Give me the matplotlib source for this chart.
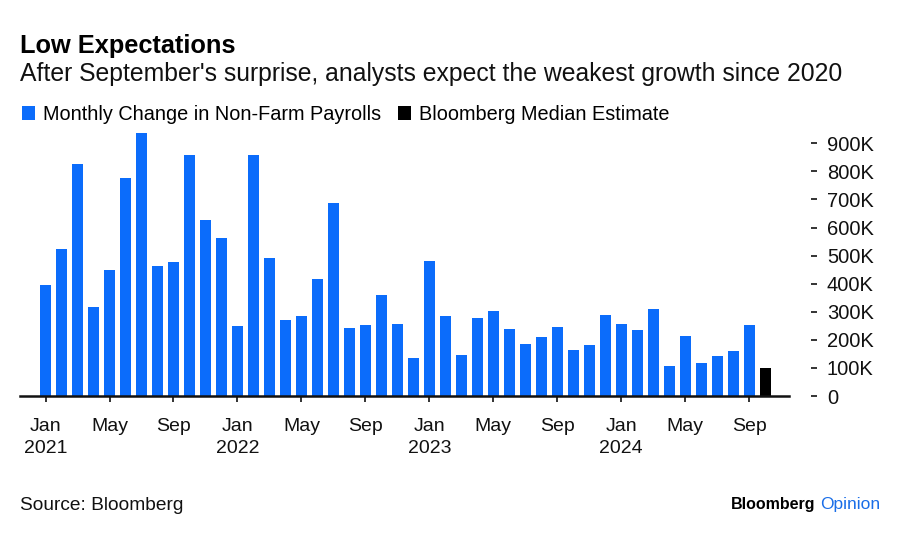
import matplotlib
matplotlib.use("Agg")
import matplotlib.pyplot as plt
import numpy as np
from matplotlib.patches import Patch

plt.rcParams['font.family'] = ['Liberation Sans', 'DejaVu Sans']

# ---- data (thousands of jobs) ----
months = ["Jan 2021", "Feb 2021", "Mar 2021", "Apr 2021", "May 2021", "Jun 2021",
          "Jul 2021", "Aug 2021", "Sep 2021", "Oct 2021", "Nov 2021", "Dec 2021",
          "Jan 2022", "Feb 2022", "Mar 2022", "Apr 2022", "May 2022", "Jun 2022",
          "Jul 2022", "Aug 2022", "Sep 2022", "Oct 2022", "Nov 2022", "Dec 2022",
          "Jan 2023", "Feb 2023", "Mar 2023", "Apr 2023", "May 2023", "Jun 2023",
          "Jul 2023", "Aug 2023", "Sep 2023", "Oct 2023", "Nov 2023", "Dec 2023",
          "Jan 2024", "Feb 2024", "Mar 2024", "Apr 2024", "May 2024", "Jun 2024",
          "Jul 2024", "Aug 2024", "Sep 2024"]
payrolls = [395, 525, 827, 316, 449, 775, 935, 463, 477, 857, 628, 564,
            248, 859, 491, 269, 284, 418, 687, 241, 253, 358, 256, 134,
            481, 286, 145, 277, 302, 239, 184, 209, 245, 164, 180, 288,
            255, 235, 309, 107, 215, 118, 144, 159, 253]
estimate_month = "Oct 2024"
estimate = [100]

xtick_labels = ["Jan\n2021", "May", "Sep", "Jan\n2022", "May", "Sep",
                "Jan\n2023", "May", "Sep", "Jan\n2024", "May", "Sep"]
ytick_values = [0, 100, 200, 300, 400, 500, 600, 700, 800, 900]
ytick_labels = ["0", "100K", "200K", "300K", "400K", "500K", "600K",
                "700K", "800K", "900K"]

BLUE = "#0B6CFB"

fig = plt.figure(figsize=(9, 5.35), dpi=100)
ax = fig.add_axes([20/900, 139/535, 769/900, (950*0.2808)/535])

x = np.arange(len(payrolls))
ax.bar(x, payrolls, width=0.69, color=BLUE, zorder=2)
xe = np.arange(len(payrolls), len(payrolls) + len(estimate))
ax.bar(xe, estimate, width=0.69, color="black", zorder=2)

ax.set_xlim(-1.6, 46.5)
ax.set_ylim(0, 950)

for s in ["top", "left"]:
    ax.spines[s].set_visible(False)
ax.spines["bottom"].set_linewidth(1.8)
ax.spines["bottom"].set_color("#111111")
ax.spines["bottom"].set_zorder(3)
ax.spines["right"].set_position(("outward", 15.8))
ax.spines["right"].set_visible(False)

ax.set_xticks(np.arange(0, len(payrolls), 4))
ax.set_xticklabels(xtick_labels, fontsize=14, color="#111111",
                   linespacing=1.42, va="top")
ax.tick_params(axis="x", length=4.5, width=1.3, color="#222222", pad=11)

ax.yaxis.tick_right()
ax.set_yticks(ytick_values)
ax.set_yticklabels(ytick_labels, fontsize=14.5, color="#111111")
ax.tick_params(axis="y", length=4.5, width=1.4, color="#333333", pad=7)

# Titles
fig.text(20/900, 1 - 45.5/535, "Low Expectations", fontsize=18.3,
         fontweight="bold", va="center", ha="left", color="black")
fig.text(20/900, 1 - 74.5/535,
         "After September's surprise, analysts expect the weakest growth since 2020",
         fontsize=17.8, va="center", ha="left", color="#111111")

# Legend
handles = [Patch(facecolor=BLUE, label="Monthly Change in Non-Farm Payrolls"),
           Patch(facecolor="black", label="Bloomberg Median Estimate")]
fig.legend(handles=handles, loc="center left",
           bbox_to_anchor=(22/900, 1 - 114.5/535), ncol=2, frameon=False,
           fontsize=14.3, handlelength=0.65, handleheight=0.7,
           handletextpad=0.4, columnspacing=0.85, borderaxespad=0,
           borderpad=0)

# Footer
fig.text(20/900, 1 - 505.5/535, "Source: Bloomberg", fontsize=13.8,
         va="center", ha="left", color="#111111")
t2 = fig.text(880/900, 1 - 504/535, "Opinion", fontsize=12.5,
              va="center", ha="right", color="#1A6EE8")
fig.canvas.draw()
bb = t2.get_window_extent()
fig.text((bb.x0 - 4)/900, 1 - 504/535, "Bloomberg", fontsize=11.5,
         fontweight="bold", va="center", ha="right", color="black")

fig.savefig("out.png", dpi=100)
